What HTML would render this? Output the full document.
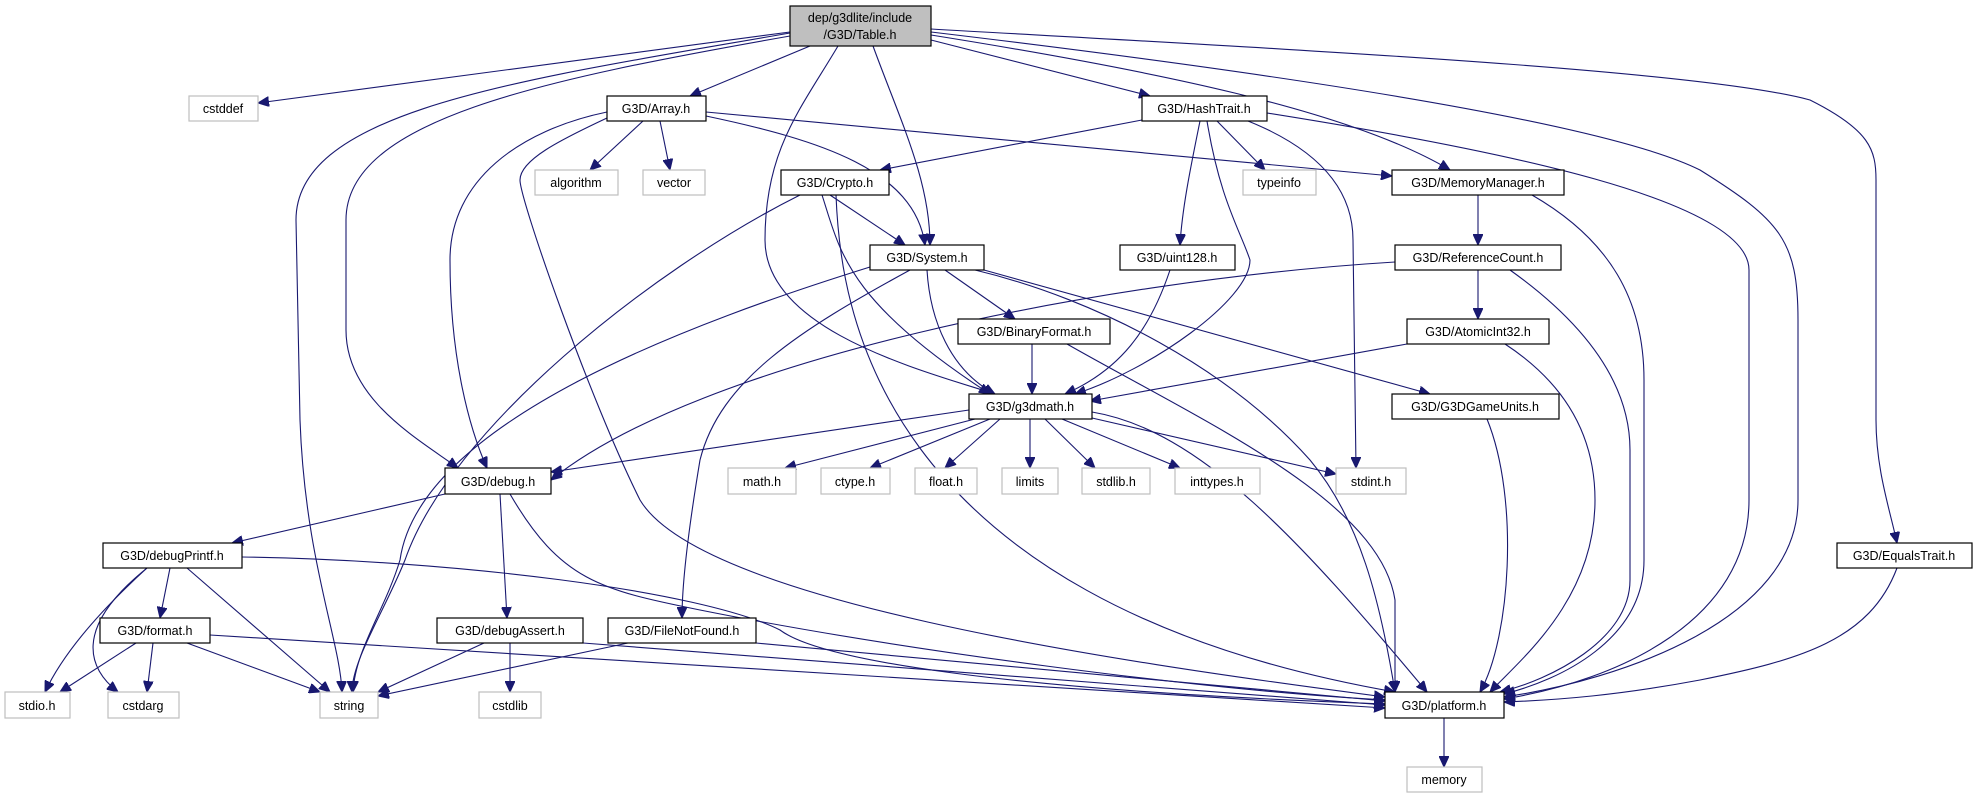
<!DOCTYPE html>
<html><head><meta charset="utf-8"><style>
html,body{margin:0;padding:0;background:#fff;}
svg{display:block;}
text{font-family:"Liberation Sans",sans-serif;font-size:12.5px;fill:#000;text-anchor:middle;}
.n{fill:#fff;stroke:#000;stroke-width:1.2;}
.g{fill:#fff;stroke:#bfbfbf;stroke-width:1.2;}
.e{fill:none;stroke:#191970;stroke-width:1.1;}
</style></head><body>
<svg width="1977" height="799" viewBox="0 0 1977 799" xmlns="http://www.w3.org/2000/svg">
<defs><marker id="a" markerUnits="userSpaceOnUse" markerWidth="12" markerHeight="10" refX="11" refY="5" orient="auto"><path d="M0,0 L11,5 L0,10 z" fill="#191970" stroke="#191970"/></marker></defs>
<g class="e" marker-end="url(#a)">
<!-- Table.h -->
<path d="M790,32 L258,103"/>
<path d="M790,33 C520,80 296,110 296,220 L300,420 C305,560 340,640 342,692"/>
<path d="M790,36 C540,80 346,120 346,220 L346,330 C346,400 420,440 458,468"/>
<path d="M810,46 L690,96"/>
<path d="M838,46 C800,110 765,150 765,240 C765,330 920,370 995,394"/>
<path d="M873,46 C900,120 930,180 930,245"/>
<path d="M931,40 L1150,96"/>
<path d="M931,35 C1150,70 1350,110 1450,170"/>
<path d="M931,32 C1250,70 1600,120 1700,170 C1780,220 1798,240 1798,320 L1798,500 C1798,620 1620,680 1504,697"/>
<path d="M931,29 C1300,50 1700,70 1810,100 C1870,130 1876,150 1876,180 L1876,420 C1876,470 1890,510 1897,543"/>
<!-- Array.h -->
<path d="M643,121 L590,170"/>
<path d="M660,121 L670,170"/>
<path d="M706,116 C820,140 915,170 925,245"/>
<path d="M706,112 L1392,176"/>
<path d="M607,112 C520,130 450,180 450,260 C450,360 470,430 487,468"/>
<path d="M607,118 C560,140 520,160 520,180 C520,200 590,400 640,500 C700,600 1100,660 1385,697"/>
<!-- HashTrait.h -->
<path d="M1142,120 L880,170"/>
<path d="M1217,121 L1265,170"/>
<path d="M1200,121 C1190,170 1182,210 1180,245"/>
<path d="M1207,121 C1220,200 1240,230 1250,260 C1250,300 1150,370 1075,394"/>
<path d="M1248,121 C1320,150 1353,190 1353,240 L1356,468"/>
<path d="M1267,113 C1500,150 1749,200 1749,270 L1749,500 C1749,620 1620,680 1504,699"/>
<!-- Crypto.h -->
<path d="M830,195 L905,245"/>
<path d="M800,195 C650,270 450,430 405,560 C385,610 352,660 352,692"/>
<path d="M822,195 C840,250 845,300 990,394"/>
<path d="M836,195 C840,300 870,600 1395,692"/>
<!-- System.h -->
<path d="M870,267 C700,320 420,420 400,560 C385,610 355,650 353,692"/>
<path d="M910,270 C800,330 720,380 700,460 C690,520 682,580 682,618"/>
<path d="M927,270 C930,320 950,370 995,394"/>
<path d="M945,270 L1015,319"/>
<path d="M984,270 L1430,394"/>
<path d="M975,270 C1100,300 1230,370 1310,460 C1360,520 1380,600 1395,692"/>
<!-- MemoryManager / ReferenceCount / etc -->
<path d="M1478,195 L1478,245"/>
<path d="M1532,195 C1610,240 1644,300 1644,380 L1644,560 C1644,640 1560,680 1504,694"/>
<path d="M1478,270 L1478,319"/>
<path d="M1395,262 C1100,280 700,360 551,480"/>
<path d="M1510,270 C1580,320 1630,380 1630,450 L1630,580 C1630,640 1550,680 1500,692"/>
<path d="M1170,270 C1150,330 1120,370 1065,394"/>
<path d="M1032,344 L1032,394"/>
<path d="M1067,344 C1200,420 1380,500 1395,600 L1395,692"/>
<path d="M1407,344 L1090,401"/>
<path d="M1505,344 C1560,380 1595,430 1595,500 C1595,600 1520,660 1490,692"/>
<path d="M1487,419 C1520,500 1510,640 1480,692"/>
<path d="M1897,568 C1870,640 1800,660 1700,680 C1620,695 1560,700 1504,702"/>
<!-- g3dmath -->
<path d="M969,410 L551,472"/>
<path d="M975,419 L785,468"/>
<path d="M990,419 L870,468"/>
<path d="M1000,419 L945,468"/>
<path d="M1030,419 L1030,468"/>
<path d="M1045,419 L1095,468"/>
<path d="M1062,419 L1180,468"/>
<path d="M1092,418 L1336,474"/>
<path d="M1092,412 C1200,430 1300,540 1427,692"/>
<!-- debug.h -->
<path d="M445,494 L232,543"/>
<path d="M500,494 L507,618"/>
<path d="M510,494 C560,580 600,590 700,610 C900,650 1200,690 1385,700"/>
<!-- debugPrintf -->
<path d="M147,568 C90,620 60,660 45,692"/>
<path d="M147,568 C70,630 90,670 118,692"/>
<path d="M170,568 L160,618"/>
<path d="M187,568 L330,692"/>
<path d="M242,557 C450,560 700,590 780,630 C820,660 1000,690 1385,704"/>
<!-- format.h -->
<path d="M136,643 L60,692"/>
<path d="M153,643 L147,692"/>
<path d="M187,643 L320,692"/>
<path d="M210,635 L1385,708"/>
<!-- debugAssert / FileNotFound -->
<path d="M484,643 L378,692"/>
<path d="M510,643 L510,692"/>
<path d="M583,643 L1385,705"/>
<path d="M628,643 L378,696"/>
<path d="M756,643 L1385,701"/>
<path d="M1444,718 L1444,767"/>
</g>
<g>
<rect x="790" y="6" width="141" height="40" fill="#bfbfbf" stroke="#000" stroke-width="1.2"/>
<text x="860" y="22">dep/g3dlite/include</text><text x="860" y="39">/G3D/Table.h</text>
<rect class="g" x="189" y="96" width="69" height="25"/><text x="223" y="113">cstddef</text>
<rect class="n" x="607" y="96" width="99" height="25"/><text x="656" y="113">G3D/Array.h</text>
<rect class="n" x="1142" y="96" width="125" height="25"/><text x="1204" y="113">G3D/HashTrait.h</text>
<rect class="g" x="535" y="170" width="83" height="25"/><text x="576" y="187">algorithm</text>
<rect class="g" x="643" y="170" width="62" height="25"/><text x="674" y="187">vector</text>
<rect class="n" x="781" y="170" width="108" height="25"/><text x="835" y="187">G3D/Crypto.h</text>
<rect class="g" x="1243" y="170" width="73" height="25"/><text x="1279" y="187">typeinfo</text>
<rect class="n" x="1392" y="170" width="172" height="25"/><text x="1478" y="187">G3D/MemoryManager.h</text>
<rect class="n" x="870" y="245" width="114" height="25"/><text x="927" y="262">G3D/System.h</text>
<rect class="n" x="1120" y="245" width="115" height="25"/><text x="1177" y="262">G3D/uint128.h</text>
<rect class="n" x="1395" y="245" width="166" height="25"/><text x="1478" y="262">G3D/ReferenceCount.h</text>
<rect class="n" x="958" y="319" width="152" height="25"/><text x="1034" y="336">G3D/BinaryFormat.h</text>
<rect class="n" x="1407" y="319" width="142" height="25"/><text x="1478" y="336">G3D/AtomicInt32.h</text>
<rect class="n" x="969" y="394" width="123" height="25"/><text x="1030" y="411">G3D/g3dmath.h</text>
<rect class="n" x="1392" y="394" width="167" height="25"/><text x="1475" y="411">G3D/G3DGameUnits.h</text>
<rect class="n" x="445" y="468" width="106" height="26"/><text x="498" y="486">G3D/debug.h</text>
<rect class="g" x="728" y="468" width="68" height="26"/><text x="762" y="486">math.h</text>
<rect class="g" x="821" y="468" width="69" height="26"/><text x="855" y="486">ctype.h</text>
<rect class="g" x="915" y="468" width="62" height="26"/><text x="946" y="486">float.h</text>
<rect class="g" x="1002" y="468" width="56" height="26"/><text x="1030" y="486">limits</text>
<rect class="g" x="1082" y="468" width="68" height="26"/><text x="1116" y="486">stdlib.h</text>
<rect class="g" x="1175" y="468" width="85" height="26"/><text x="1217" y="486">inttypes.h</text>
<rect class="g" x="1336" y="468" width="70" height="26"/><text x="1371" y="486">stdint.h</text>
<rect class="n" x="103" y="543" width="139" height="25"/><text x="172" y="560">G3D/debugPrintf.h</text>
<rect class="n" x="1837" y="543" width="135" height="25"/><text x="1904" y="560">G3D/EqualsTrait.h</text>
<rect class="n" x="100" y="618" width="110" height="25"/><text x="155" y="635">G3D/format.h</text>
<rect class="n" x="437" y="618" width="146" height="25"/><text x="510" y="635">G3D/debugAssert.h</text>
<rect class="n" x="608" y="618" width="148" height="25"/><text x="682" y="635">G3D/FileNotFound.h</text>
<rect class="g" x="5" y="692" width="65" height="26"/><text x="37" y="710">stdio.h</text>
<rect class="g" x="108" y="692" width="71" height="26"/><text x="143" y="710">cstdarg</text>
<rect class="g" x="320" y="692" width="58" height="26"/><text x="349" y="710">string</text>
<rect class="g" x="479" y="692" width="62" height="26"/><text x="510" y="710">cstdlib</text>
<rect class="n" x="1385" y="692" width="119" height="26"/><text x="1444" y="710">G3D/platform.h</text>
<rect class="g" x="1407" y="767" width="75" height="25"/><text x="1444" y="784">memory</text>
</g>
</svg>
</body></html>
